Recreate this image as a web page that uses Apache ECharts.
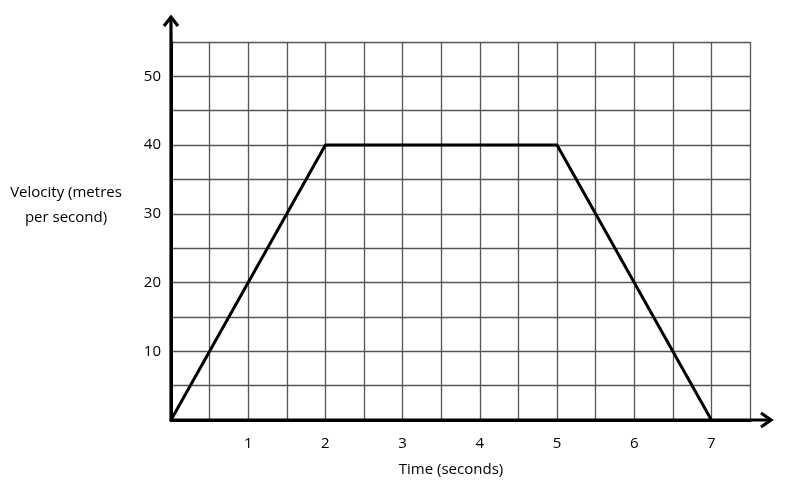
<!DOCTYPE html>
<html>
<head>
<meta charset="utf-8">
<script src="https://cdn.jsdelivr.net/npm/echarts@6/dist/echarts.min.js"></script>
<style>
  html, body { margin: 0; padding: 0; background: #fff; }
  #chart { width: 800px; height: 490px; }
</style>
</head>
<body>
<div id="chart"></div>
<script>
(function () {
  // data --------------------------------------------------------
  var timeSec = [0, 2, 5, 7];
  var velocity = [0, 40, 40, 0];
  var xLabels = [1, 2, 3, 4, 5, 6, 7];
  var yLabels = [10, 20, 30, 40, 50];

  var font = '"Open Sans", "Liberation Sans", sans-serif';
  var chart = echarts.init(document.getElementById('chart'));

  chart.setOption({
    animation: false,
    backgroundColor: '#fff',
    grid: { left: 171, top: 42, right: 50, bottom: 70, containLabel: false },
    xAxis: {
      type: 'value',
      min: 0,
      max: 7.5,
      interval: 0.5,
      name: 'Time (seconds)',
      nameLocation: 'middle',
      nameGap: 42,
      nameTextStyle: { color: '#000', fontSize: 15, fontFamily: font, padding: [0, 19, 0, 0] },
      axisLine: { show: true, onZero: true, lineStyle: { color: '#000', width: 3 } },
      axisTick: { show: false },
      axisLabel: {
        color: '#000', fontSize: 15, fontFamily: font, margin: 16,
        formatter: function (v) { return xLabels.indexOf(v) >= 0 ? String(v) : ''; }
      },
      splitLine: { show: true, lineStyle: { color: '#555', width: 1.3 } }
    },
    yAxis: {
      type: 'value',
      min: 0,
      max: 55,
      interval: 5,
      axisLine: { show: true, onZero: true, lineStyle: { color: '#000', width: 3 } },
      axisTick: { show: false },
      axisLabel: {
        color: '#000', fontSize: 15, fontFamily: font, margin: 10,
        formatter: function (v) { return yLabels.indexOf(v) >= 0 ? String(v) : ''; }
      },
      splitLine: { show: true, lineStyle: { color: '#555', width: 1.3 } }
    },
    series: [{
      type: 'line',
      data: timeSec.map(function (t, i) { return [t, velocity[i]]; }),
      symbol: 'none',
      lineStyle: { color: '#000', width: 3 },
      z: 5
    }]
  });

  // axis lines with arrows, placed through the axis scales
  var o = chart.convertToPixel({ gridIndex: 0 }, [0, 0]);
  var top = chart.convertToPixel({ gridIndex: 0 }, [0, 55]);
  var right = chart.convertToPixel({ gridIndex: 0 }, [7.5, 0]);
  var yTip = top[1] - 26;
  var xTip = right[0] + 22;
  var arrowStyle = { stroke: '#000', lineWidth: 3.2, fill: null, lineJoin: 'miter' };

  chart.setOption({
    graphic: [
      { type: 'line', shape: { x1: o[0], y1: o[1] + 1, x2: o[0], y2: yTip + 1 }, style: arrowStyle, z: 10 },
      { type: 'polyline', shape: { points: [[o[0] - 7, yTip + 10], [o[0], yTip + 1], [o[0] + 7, yTip + 10]] }, style: arrowStyle, z: 10 },
      { type: 'line', shape: { x1: o[0] - 1, y1: o[1], x2: xTip - 1, y2: o[1] }, style: arrowStyle, z: 10 },
      { type: 'polyline', shape: { points: [[xTip - 11, o[1] - 7], [xTip - 1, o[1]], [xTip - 11, o[1] + 7]] }, style: arrowStyle, z: 10 },
      {
        type: 'text', x: 66, y: 205, z: 10,
        style: {
          text: 'Velocity (metres\nper second)', fill: '#000', font: '15px ' + font,
          align: 'center', verticalAlign: 'middle', lineHeight: 25
        }
      }
    ]
  });
})();
</script>
</body>
</html>
